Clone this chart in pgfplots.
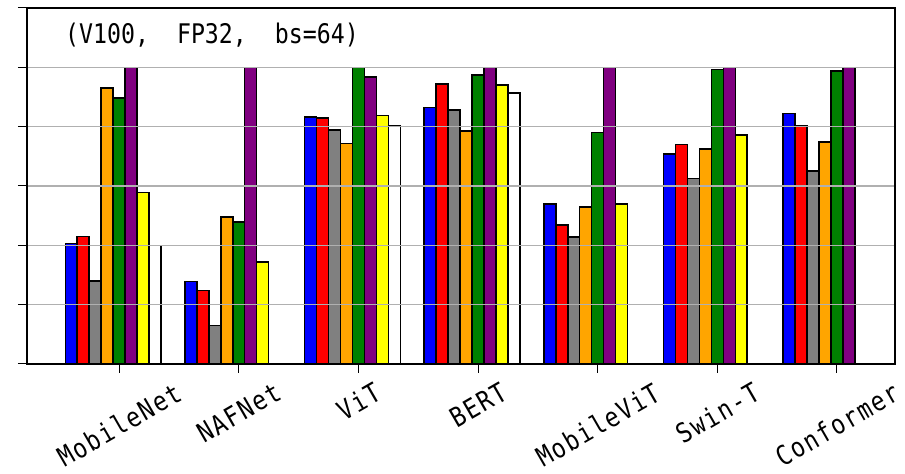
\documentclass[border=0pt]{standalone}
\usepackage{fontspec}
\usepackage{graphicx}
\usepackage{pgfplots}
\pgfplotsset{compat=1.18}
\newfontfamily\titlefont[FakeStretch=0.86]{DejaVu Sans Mono}
\newfontfamily\labelfont[FakeStretch=0.85,LetterSpace=6]{DejaVu Sans Mono}
\newcommand\lbl[1]{\rotatebox{30}{\labelfont\fontsize{27}{30}\selectfont #1}}
\definecolor{cBlue}{RGB}{0,0,255}
\definecolor{cRed}{RGB}{255,0,0}
\definecolor{cGray}{RGB}{128,128,128}
\definecolor{cOrange}{RGB}{255,165,0}
\definecolor{cGreen}{RGB}{0,128,0}
\definecolor{cPurple}{RGB}{128,0,128}
\definecolor{cYellow}{RGB}{255,255,0}
\definecolor{gridgray}{RGB}{176,176,176}
\begin{document}
\begin{tikzpicture}
\begin{axis}[
  scale only axis,
  width=868pt, height=356pt,
  xmin=-0.77, xmax=6.485,
  ymin=0, ymax=6,
  axis on top,
  ybar, bar width=0.1,
  xtick={0,1,2,3,4,5,6},
  xticklabels={\lbl{MobileNet},\lbl{NAFNet},\lbl{ViT},\lbl{BERT},\lbl{MobileViT},\lbl{Swin-T},\lbl{Conformer}},
  xticklabel style={anchor=north, inner sep=0pt, yshift=-8pt},
  ytick={0,1,2,3,4,5,6},
  yticklabels={},
  tick pos=left,
  tick align=outside,
  major tick length=9pt,
  tick style={black, line width=1pt},
  ymajorgrids,
  grid style={gridgray, line width=1.3pt},
  axis line style={black, line width=1.2pt},
]
\addplot[draw=black, line width=1.5pt, fill=cBlue, bar shift=-0.4] coordinates {(0,2.03) (1,1.39) (2,4.16) (3,4.32) (4,2.70) (5,3.54) (6,4.22)};
\addplot[draw=black, line width=1.5pt, fill=cRed, bar shift=-0.3] coordinates {(0,2.15) (1,1.24) (2,4.15) (3,4.72) (4,2.34) (5,3.70) (6,4.01)};
\addplot[draw=black, line width=1.5pt, fill=cGray, bar shift=-0.2] coordinates {(0,1.40) (1,0.65) (2,3.94) (3,4.28) (4,2.14) (5,3.13) (6,3.25)};
\addplot[draw=black, line width=1.5pt, fill=cOrange, bar shift=-0.1] coordinates {(0,4.65) (1,2.48) (2,3.72) (3,3.93) (4,2.65) (5,3.62) (6,3.74)};
\addplot[draw=black, line width=1.5pt, fill=cGreen, bar shift=0] coordinates {(0,4.48) (1,2.39) (2,5.00) (3,4.87) (4,3.90) (5,4.96) (6,4.94)};
\addplot[draw=black, line width=1.5pt, fill=cPurple, bar shift=0.1] coordinates {(0,5.00) (1,5.00) (2,4.84) (3,5.00) (4,5.00) (5,5.00) (6,5.00)};
\addplot[draw=black, line width=1.5pt, fill=cYellow, bar shift=0.2] coordinates {(0,2.89) (1,1.72) (2,4.19) (3,4.70) (4,2.70) (5,3.86)};
\addplot[draw=black, line width=1.5pt, fill=white, bar shift=0.3] coordinates {(0,2.00) (2,4.02) (3,4.57)};
\node[anchor=base west, inner sep=0pt, font=\titlefont\fontsize{27}{27}\selectfont] at (rel axis cs:0.0438,0.9008) {(V100,\ \ FP32,\ \ bs=64)};
\coordinate (A) at (rel axis cs:0,0);
\coordinate (B) at (rel axis cs:1,1);
\end{axis}
\pgfresetboundingbox
\path ([xshift=-27pt,yshift=-110pt]A) rectangle ([xshift=10pt,yshift=8pt]B);
\end{tikzpicture}
\end{document}
